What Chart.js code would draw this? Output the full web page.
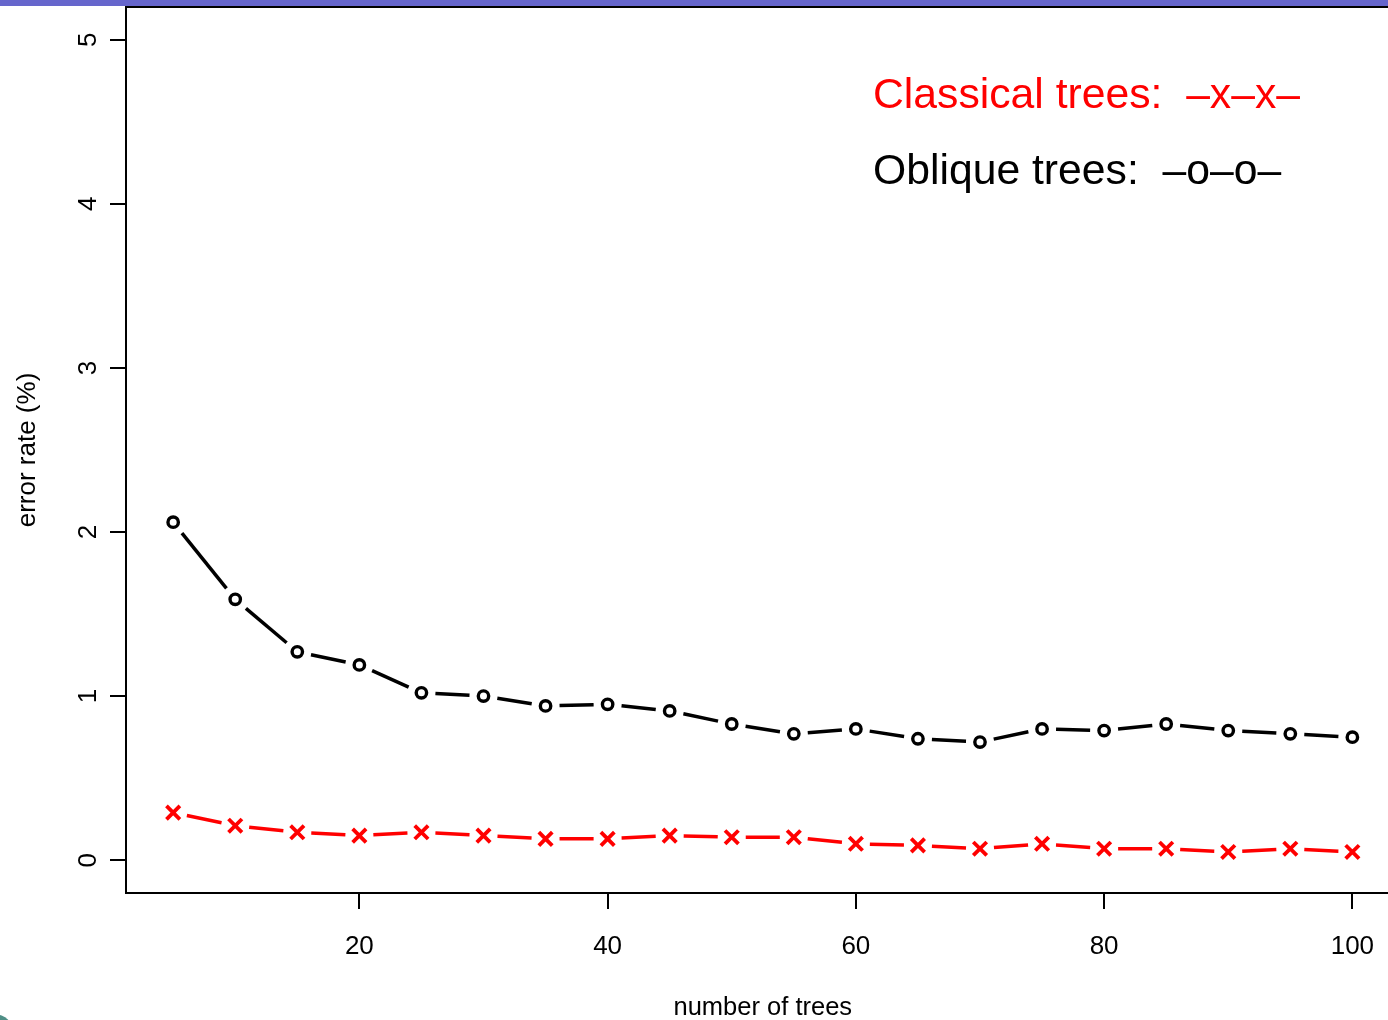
<!DOCTYPE html>
<html>
<head>
<meta charset="utf-8">
<title>error rate vs number of trees</title>
<script src="https://cdn.jsdelivr.net/npm/chart.js@4.4.1/dist/chart.umd.min.js"></script>
<style>
    html, body { margin: 0; padding: 0; background: #ffffff; overflow: hidden; }
    #wrap { position: relative; width: 1388px; height: 1020px; }
</style>
</head>
<body>
<div id="wrap"><canvas id="myChart"></canvas></div>
<script>
"use strict";

//region Data
let trees = [5, 10, 15, 20, 25, 30, 35, 40, 45, 50, 55, 60, 65, 70, 75, 80, 85, 90, 95, 100];
let classical = [0.29, 0.21, 0.17, 0.15, 0.17, 0.15, 0.13, 0.13, 0.15, 0.14, 0.14, 0.10, 0.09, 0.07, 0.10, 0.07, 0.07, 0.05, 0.07, 0.05];
let oblique = [2.06, 1.59, 1.27, 1.19, 1.02, 1.00, 0.94, 0.95, 0.91, 0.83, 0.77, 0.80, 0.74, 0.72, 0.80, 0.79, 0.83, 0.79, 0.77, 0.75];
let xTicks = [20, 40, 60, 80, 100];
let yTicks = [0, 1, 2, 3, 4, 5];
let xTitle = "number of trees";
let legendLines = [
    {text: "Classical trees:  \u2013x\u2013x\u2013", color: "#ff0000"},
    {text: "Oblique trees:  \u2013o\u2013o\u2013", color: "#000000"}
];
//endregion

//region Variables
let FONT = "'Liberation Sans', Arial, Helvetica, sans-serif";
let GAP = 14;
//endregion

//region Plugins
// lines between points, cut short around each marker
let gappedLines = {
    id: "gappedLines",
    beforeDatasetsDraw: function (chart) {
        let ctx = chart.ctx;
        chart.data.datasets.forEach(function (ds, i) {
            let pts = chart.getDatasetMeta(i).data;
            ctx.save();
            ctx.strokeStyle = ds.borderColor;
            ctx.lineWidth = 3.5;
            ctx.lineCap = "butt";
            for (let k = 0; k < pts.length - 1; k++) {
                let x0 = pts[k].x, y0 = pts[k].y, x1 = pts[k + 1].x, y1 = pts[k + 1].y;
                let len = Math.hypot(x1 - x0, y1 - y0);
                if (len <= 2 * GAP) continue;
                let ux = (x1 - x0) / len, uy = (y1 - y0) / len;
                ctx.beginPath();
                ctx.moveTo(x0 + ux * GAP, y0 + uy * GAP);
                ctx.lineTo(x1 - ux * GAP, y1 - uy * GAP);
                ctx.stroke();
            }
            ctx.restore();
        });
    }
};

// frame (open on the right), rotated y labels, x title, text legend and slide decoration
let decorations = {
    id: "decorations",
    beforeDraw: function (chart) {
        let ctx = chart.ctx;
        ctx.save();
        ctx.fillStyle = "#ffffff";
        ctx.fillRect(0, 0, chart.width, chart.height);
        ctx.fillStyle = "#6666cc";
        ctx.fillRect(0, 0, chart.width, 6);
        ctx.fillStyle = "#4f8f86";
        ctx.beginPath();
        ctx.arc(-6, 1034, 20, 0, 2 * Math.PI);
        ctx.fill();
        ctx.restore();
    },
    afterDraw: function (chart) {
        let ctx = chart.ctx;
        let a = chart.chartArea;
        ctx.save();
        ctx.strokeStyle = "#000000";
        ctx.lineWidth = 2;
        ctx.beginPath();
        ctx.moveTo(chart.width, a.top);
        ctx.lineTo(a.left, a.top);
        ctx.lineTo(a.left, a.bottom);
        ctx.lineTo(chart.width, a.bottom);
        ctx.stroke();

        let yScale = chart.scales.y;
        let xScale = chart.scales.x;
        ctx.fillStyle = "#000000";
        ctx.font = "26px " + FONT;
        ctx.textAlign = "center";
        ctx.textBaseline = "middle";
        yScale.ticks.forEach(function (t) {
            ctx.save();
            ctx.translate(89, yScale.getPixelForValue(t.value));
            ctx.rotate(-Math.PI / 2);
            ctx.fillText(String(t.value), 0, 0);
            ctx.restore();
        });

        // centred on the full x range 1.2 .. 103.8
        ctx.font = "25.5px " + FONT;
        ctx.fillText(xTitle, xScale.getPixelForValue(52.5), 1008);

        ctx.font = "42.7px " + FONT;
        ctx.textAlign = "left";
        ctx.textBaseline = "alphabetic";
        legendLines.forEach(function (l, i) {
            ctx.fillStyle = l.color;
            ctx.fillText(l.text, 873, 108 + i * 76);
        });
        ctx.restore();
    }
};
//endregion

//region Main
let points = function (ys) {
    return trees.map(function (t, i) { return {x: t, y: ys[i]}; });
};

let newChart = new Chart(document.getElementById("myChart"), {
    type: "scatter",
    data: {
        datasets: [
            {
                label: "Classical trees",
                data: points(classical),
                borderColor: "#ff0000",
                backgroundColor: "#ff0000",
                pointStyle: "crossRot",
                pointRadius: 9.5,
                pointBorderWidth: 3.8,
                showLine: false
            },
            {
                label: "Oblique trees",
                data: points(oblique),
                borderColor: "#000000",
                backgroundColor: "#ffffff",
                pointStyle: "circle",
                pointRadius: 5.2,
                pointBorderWidth: 3.4,
                showLine: false
            }
        ]
    },
    options: {
        responsive: true,
        maintainAspectRatio: false,
        animation: false,
        layout: {autoPadding: false, padding: {left: 0, top: 7, right: 0, bottom: 0}},
        plugins: {
            legend: {display: false},
            tooltip: {enabled: false}
        },
        scales: {
            x: {
                type: "linear",
                min: 1.2,
                max: 102.87,
                border: {display: false},
                grid: {drawOnChartArea: false, drawTicks: true, tickLength: 16, color: "#000000", lineWidth: 2},
                ticks: {color: "#000000", font: {family: FONT, size: 26}, padding: 22, maxRotation: 0, autoSkip: false},
                title: {display: false},
                afterBuildTicks: function (scale) {
                    scale.ticks = xTicks.map(function (v) { return {value: v}; });
                },
                afterFit: function (scale) {
                    scale.height = 127;
                    scale.paddingLeft = 0;
                    scale.paddingRight = 0;
                }
            },
            y: {
                type: "linear",
                min: -0.2,
                max: 5.2,
                border: {display: false},
                grid: {drawOnChartArea: false, drawTicks: true, tickLength: 16, color: "#000000", lineWidth: 2},
                ticks: {display: false},
                title: {display: true, text: "error rate (%)", color: "#000000", font: {family: FONT, size: 26, lineHeight: 1}, padding: {top: 15, bottom: 0}},
                afterBuildTicks: function (scale) {
                    scale.ticks = yTicks.map(function (v) { return {value: v}; });
                },
                afterFit: function (scale) {
                    scale.width = 126;
                    scale.paddingTop = 0;
                    scale.paddingBottom = 0;
                }
            }
        }
    },
    plugins: [gappedLines, decorations]
});
//endregion
</script>
</body>
</html>
